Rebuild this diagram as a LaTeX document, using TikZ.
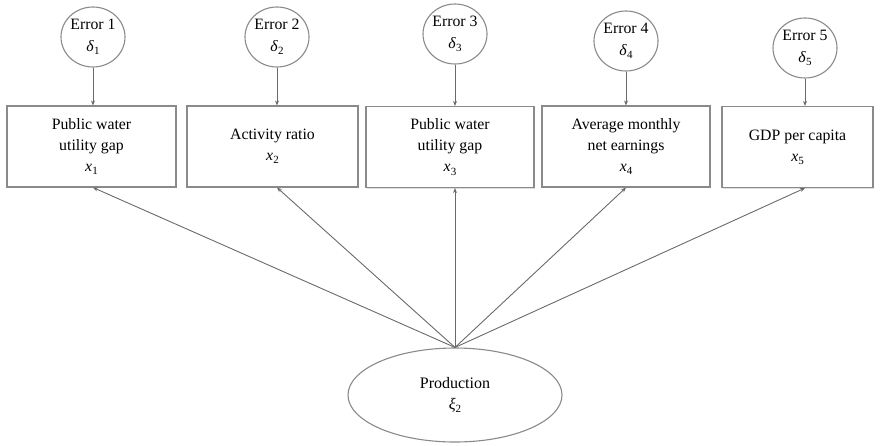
\documentclass[tikz,border=0pt]{standalone}
\usepackage{fontspec}
\setmainfont{Liberation Serif}
\usetikzlibrary{shapes.geometric,arrows.meta,shadows}
\newcommand{\vsub}[2]{\textit{#1}\raisebox{-0.45ex}{\fontsize{11}{11}\selectfont #2}}
\definecolor{edge}{HTML}{6A6A6A}
\definecolor{frame}{HTML}{8A8A8A}
\tikzset{
  errnode/.style={ellipse, draw=frame, line width=1.1pt, minimum width=64pt, minimum height=60pt, inner sep=0pt, align=center, font=\fontsize{15.8}{21.5}\selectfont},
  obsbox/.style={rectangle, draw=frame, line width=1.1pt, minimum height=81pt, inner sep=0pt, align=center, font=\fontsize{15.8}{21}\selectfont, fill=white, drop shadow={shadow xshift=1.2pt, shadow yshift=-1.2pt, opacity=0.25}},
  latent/.style={ellipse, draw=frame, line width=1.1pt, minimum width=214pt, minimum height=94pt, inner sep=0pt, align=center, font=\fontsize{16}{21}\selectfont},
  conn/.style={draw=edge, line width=0.9pt, -{Stealth[length=5pt,width=4pt]}}
}
\begin{document}
\begin{tikzpicture}[x=1pt,y=-1pt]
\useasboundingbox (0,0) rectangle (881,445);
% error terms
\node[errnode] (e1) at (93,37) {Error 1\\\vsub{δ}{1}};
\node[errnode] (e2) at (277,37) {Error 2\\\vsub{δ}{2}};
\node[errnode] (e3) at (455,34) {Error 3\\\vsub{δ}{3}};
\node[errnode] (e4) at (626,41) {Error 4\\\vsub{δ}{4}};
\node[errnode] (e5) at (805,48) {Error 5\\\vsub{δ}{5}};
% observed variables
\node[obsbox, minimum width=169pt] (x1) at (91.5,146.5) {Public water\\utility gap\\\vsub{x}{1}};
\node[obsbox, minimum width=171pt] (x2) at (272.5,146.5) {Activity ratio\\\vsub{x}{2}};
\node[obsbox, minimum width=168pt] (x3) at (450,147) {Public water\\utility gap\\\vsub{x}{3}};
\node[obsbox, minimum width=168pt] (x4) at (626,146.5) {Average monthly\\net earnings\\\vsub{x}{4}};
\node[obsbox, minimum width=151pt] (x5) at (797.5,147) {GDP per capita\\\vsub{x}{5}};
% latent variable
\node[latent] (p) at (455,395) {Production\\\vsub{ξ}{2}};
% error arrows
\draw[conn] (e1.south) -- (e1.south |- x1.north);
\draw[conn] (e2.south) -- (e2.south |- x2.north);
\draw[conn] (e3.south) -- (e3.south |- x3.north);
\draw[conn] (e4.south) -- (e4.south |- x4.north);
\draw[conn] (e5.south) -- (e5.south |- x5.north);
% loadings
\draw[conn] (p.north) -- (e1.south |- x1.south);
\draw[conn] (p.north) -- (e2.south |- x2.south);
\draw[conn] (p.north) -- (e3.south |- x3.south);
\draw[conn] (p.north) -- (e4.south |- x4.south);
\draw[conn] (p.north) -- (e5.south |- x5.south);
\end{tikzpicture}
\end{document}
